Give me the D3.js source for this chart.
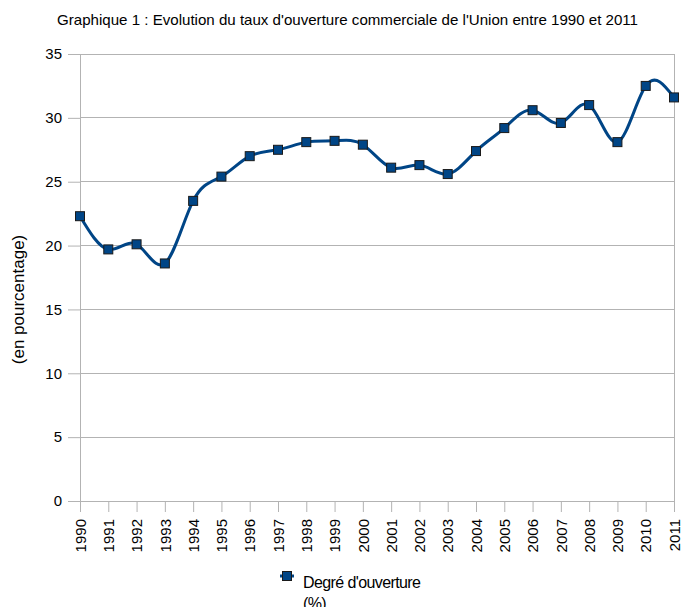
<!DOCTYPE html>
<html>
<head>
<meta charset="utf-8">
<script src="https://cdn.jsdelivr.net/npm/d3@7"></script>
<style>
  html, body { margin: 0; padding: 0; background: #fff; }
  svg { display: block; font-family: "Liberation Sans", Arial, sans-serif; }
</style>
</head>
<body>
<svg id="chart" width="682" height="607"></svg>
<script>
// Degré d'ouverture commerciale de l'Union (%), 1990–2011
const years = ["1990","1991","1992","1993","1994","1995","1996","1997","1998","1999","2000",
               "2001","2002","2003","2004","2005","2006","2007","2008","2009","2010","2011"];
const openness = [22.3, 19.7, 20.1, 18.6, 23.5, 25.4, 27.0, 27.5, 28.1, 28.2, 27.9,
                  26.1, 26.3, 25.6, 27.4, 29.2, 30.6, 29.6, 31.0, 28.1, 32.5, 31.6];
const yTicks = [0, 5, 10, 15, 20, 25, 30, 35];

const titleText = "Graphique 1 : Evolution du taux d'ouverture commerciale de l'Union entre 1990 et 2011";
const yTitle = "(en pourcentage)";
const legendLines = ["Degré d'ouverture", "(%)"];

const svg = d3.select("#chart");
const margin = { left: 80, right: 8, top: 54, bottom: 106 };
const W = 682, H = 607;

const x = d3.scalePoint().domain(years).range([margin.left, W - margin.right]);
const y = d3.scaleLinear().domain([0, 35]).range([H - margin.bottom, margin.top]);

const grid = "#b3b3b3";

// horizontal gridlines with left tick stubs
const yAxis = svg.append("g")
  .attr("transform", `translate(${margin.left},0)`)
  .call(d3.axisLeft(y).tickValues(yTicks).tickSize(12).tickPadding(6).tickFormat(d3.format("d")));
yAxis.select(".domain").remove();
yAxis.selectAll(".tick line").attr("stroke", grid);
yAxis.selectAll(".tick text").attr("font-size", 15).attr("fill", "#000")
  .attr("font-family", "Liberation Sans, Arial, sans-serif");
svg.append("g").selectAll("line").data(yTicks).join("line")
  .attr("x1", margin.left).attr("x2", W - margin.right)
  .attr("y1", d => y(d)).attr("y2", d => y(d))
  .attr("stroke", grid).attr("stroke-width", 1).attr("shape-rendering", "crispEdges");

// frame: left axis and right border
svg.append("line").attr("x1", margin.left).attr("x2", margin.left)
  .attr("y1", y(35)).attr("y2", y(0)).attr("stroke", grid).attr("shape-rendering", "crispEdges");
svg.append("line").attr("x1", W - margin.right).attr("x2", W - margin.right)
  .attr("y1", y(35)).attr("y2", y(0)).attr("stroke", grid).attr("shape-rendering", "crispEdges");

// x axis with rotated year labels
const xAxis = svg.append("g")
  .attr("transform", `translate(0,${y(0)})`)
  .call(d3.axisBottom(x).tickSize(11).tickPadding(4));
xAxis.select(".domain").remove();
xAxis.selectAll(".tick line").attr("stroke", grid);
xAxis.selectAll(".tick text")
  .attr("font-size", 15).attr("fill", "#000")
  .attr("font-family", "Liberation Sans, Arial, sans-serif")
  .attr("transform", "rotate(-90)")
  .attr("text-anchor", "end")
  .attr("x", -18).attr("y", 0).attr("dy", "0.35em");

// smoothed series line
const pts = years.map((yr, i) => [x(yr), y(openness[i])]);
svg.append("path")
  .attr("d", d3.line().curve(d3.curveNatural)(pts))
  .attr("fill", "none").attr("stroke", "#004586").attr("stroke-width", 3);

// square markers
svg.append("g").selectAll("rect").data(pts).join("rect")
  .attr("x", d => d[0] - 4.5).attr("y", d => d[1] - 4.5)
  .attr("width", 9).attr("height", 9)
  .attr("fill", "#004586").attr("stroke", "#1a1a1a").attr("stroke-width", 1);

// title
svg.append("text").attr("x", 57).attr("y", 25)
  .attr("font-size", 14.5).attr("fill", "#000")
  .attr("textLength", 581).attr("lengthAdjust", "spacingAndGlyphs")
  .text(titleText);

// y-axis title
svg.append("text")
  .attr("transform", `translate(24,${(y(0) + y(35)) / 2 + 22}) rotate(-90)`)
  .attr("text-anchor", "middle").attr("font-size", 17).attr("fill", "#000")
  .text(yTitle);

// legend
const lg = svg.append("g").attr("transform", "translate(287,576)");
lg.append("line").attr("x1", -7).attr("x2", 7).attr("y1", 0).attr("y2", 0)
  .attr("stroke", "#004586").attr("stroke-width", 3);
lg.append("rect").attr("x", -4.5).attr("y", -4.5).attr("width", 9).attr("height", 9)
  .attr("fill", "#004586").attr("stroke", "#1a1a1a");
lg.selectAll("text").data(legendLines).join("text")
  .attr("x", 16).attr("y", (d, i) => 12 + i * 21)
  .attr("font-size", 16).attr("fill", "#000").attr("letter-spacing", -0.6)
  .text(d => d);
</script>
</body>
</html>
